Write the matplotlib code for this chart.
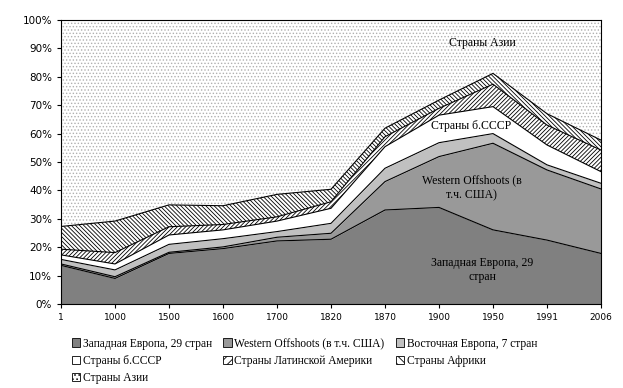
import numpy as np
import matplotlib.pyplot as plt
from matplotlib.patches import Patch

plt.rcParams['hatch.linewidth'] = 0.6

years = ['1', '1000', '1500', '1600', '1700', '1820', '1870', '1900', '1950', '1991', '2006']

# доли регионов (%)
west_europe = [13.6, 9.0, 17.8, 19.5, 22.2, 22.8, 33.1, 34.0, 26.1, 22.5, 17.8]
offshoots = [0.5, 0.6, 0.4, 0.6, 1.3, 2.1, 10.0, 17.9, 30.5, 24.7, 22.7]
east_europe = [1.6, 2.4, 2.8, 2.9, 2.0, 3.5, 4.7, 4.9, 3.4, 1.8, 2.0]
ussr = [1.6, 2.1, 3.3, 3.1, 3.7, 5.3, 7.6, 9.7, 9.5, 7.0, 4.1]
latin = [2.0, 4.0, 2.9, 1.9, 1.5, 2.3, 3.5, 2.4, 7.9, 7.0, 7.6]
africa = [8.0, 11.1, 7.7, 6.6, 7.9, 4.4, 3.0, 2.9, 3.8, 4.0, 3.5]
asia = list(100 - np.sum([west_europe, offshoots, east_europe, ussr, latin, africa], axis=0))

names = ['Западная Европа, 29 стран', 'Western Offshoots (в т.ч. США)',
         'Восточная Европа, 7 стран', 'Страны б.СССР',
         'Страны Латинской Америки', 'Страны Африки', 'Страны Азии']
series = [west_europe, offshoots, east_europe, ussr, latin, africa, asia]
faces = ['#808080', '#999999', '#c0c0c0', 'white', 'white', 'white', 'white']
hatches = [None, None, None, None, '////////', '\\\\\\\\\\\\\\\\', '.....']

x = np.arange(len(years))
fig = plt.figure(figsize=(6.23, 3.88), dpi=100)
ax = fig.add_axes([61 / 623, 84 / 388, 540 / 623, 284 / 388])

bottom = np.zeros(len(years))
handles = []
for name, vals, fc, h in zip(names, series, faces, hatches):
    top = bottom + np.array(vals)
    ec = '#b0b0b0' if h == '.....' else 'black'
    ax.fill_between(x, bottom, top, facecolor=fc, hatch=h, edgecolor=ec, linewidth=0)
    if h != '.....':
        ax.plot(x, top, color='black', lw=0.8)
    lh = '....' if h == '.....' else (h[:4] if h else None)
    handles.append(Patch(facecolor=fc, hatch=lh, edgecolor='black', linewidth=0.6))
    bottom = top

ax.set_xlim(0, len(years) - 1)
ax.set_ylim(0, 100)
ax.set_xticks(x)
ax.set_xticklabels(years, fontsize=6.5)
ax.set_yticks(np.arange(0, 101, 10))
ax.set_yticklabels([str(v) + '%' for v in range(0, 101, 10)], fontsize=7.5)
ax.tick_params(length=3, width=0.8)
for s in ax.spines.values():
    s.set_linewidth(0.8)

serif = 'Liberation Serif'
ax.text(7.8, 92, 'Страны Азии', ha='center', va='center', fontsize=8.5, family=serif)
ax.text(7.6, 62.5, 'Страны б.СССР', ha='center', va='center', fontsize=8.5, family=serif)
ax.text(7.6, 41, 'Western Offshoots (в\nт.ч. США)', ha='center', va='center',
        fontsize=8.5, family=serif, linespacing=1.3)
ax.text(7.8, 12, 'Западная Европа, 29\nстран', ha='center', va='center',
        fontsize=8.5, family=serif, linespacing=1.3)

order = [0, 3, 6, 1, 4, 2, 5]
fig.legend([handles[i] for i in order], [names[i] for i in order], ncol=3,
           loc='upper left', bbox_to_anchor=(67 / 623, 1 - 333 / 388), frameon=False,
           prop={'family': serif, 'size': 8.3}, handlelength=0.75, handleheight=0.75,
           handletextpad=0.2, columnspacing=1.0, labelspacing=0.45, borderaxespad=0)

fig.savefig('out.png', dpi=100)
